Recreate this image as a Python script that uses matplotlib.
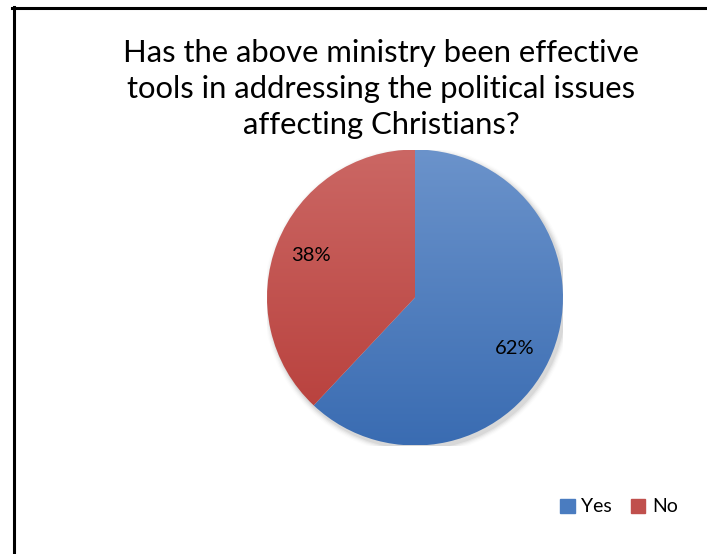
import numpy as np
import matplotlib.pyplot as plt
from matplotlib.colors import LinearSegmentedColormap
from matplotlib.lines import Line2D

plt.rcParams['font.family'] = ['Lato', 'DejaVu Sans']

title = "Has the above ministry been effective\ntools in addressing the political issues\naffecting Christians?"
labels = ["Yes", "No"]
shares = [62, 38]
# top / bottom shade of each slice
shades = [("#6b93cb", "#3a6cb2"), ("#cb6764", "#b73d39")]
legend_colors = ["#4a7cc0", "#c0504d"]

W, H = 707, 554
fig = plt.figure(figsize=(W / 100, H / 100), dpi=100)

# frame lines on the left and top only
fig.add_artist(Line2D([13.5 / W, 13.5 / W], [0, 1 - 7 / H], color="black", lw=2.2))
fig.add_artist(Line2D([12 / W, 1], [1 - 8 / H, 1 - 8 / H], color="black", lw=2.2))

fig.text(381 / W, 1 - 89 / H, title, ha="center", va="center",
         fontsize=22.3, linespacing=1.33)

cx, cy, r = 415, 297.5, 148
ax = fig.add_axes([(cx - r) / W, (H - cy - r) / H, 2 * r / W, 2 * r / H])

# soft shadow under the pie
for k, a in enumerate(np.linspace(0.05, 0.01, 5)):
    ax.add_patch(plt.Circle((0.015, -0.02), 1.0 + 0.008 * (k + 1),
                            color="black", alpha=a, lw=0, zorder=0))

wedges, _ = ax.pie(shares, startangle=90, counterclock=False, radius=1,
                   wedgeprops=dict(linewidth=0))
grad = np.linspace(0, 1, 256).reshape(-1, 1)
for w, (top, bot) in zip(wedges, shades):
    w.set_facecolor("none")
    cmap = LinearSegmentedColormap.from_list("g", [top, bot])
    im = ax.imshow(grad, cmap=cmap, extent=[-1, 1, -1, 1], origin="upper",
                   aspect="auto", zorder=2)
    im.set_clip_path(w)

ax.set_xlim(-1.0, 1.0)
ax.set_ylim(-1.0, 1.0)
ax.axis("off")

# percentage labels, nudged a little from the slice middle
nudge = [-5.5, -0.5]
angle = 90.0
for s, dn in zip(shares, nudge):
    mid = np.deg2rad(angle - s * 3.6 / 2 + dn)
    angle -= s * 3.6
    ax.text(0.76 * np.cos(mid), 0.76 * np.sin(mid), f"{s}%", ha="center",
            va="center", fontsize=14.5, zorder=5)

handles = [plt.Rectangle((0, 0), 1, 1, color=c) for c in legend_colors]
fig.legend(handles, labels, loc="center", bbox_to_anchor=(619 / W, 1 - 507 / H),
           ncol=2, frameon=False, fontsize=14, handlelength=0.75,
           handleheight=0.75, handletextpad=0.35, columnspacing=0.95)

fig.savefig("out.png", dpi=100)
